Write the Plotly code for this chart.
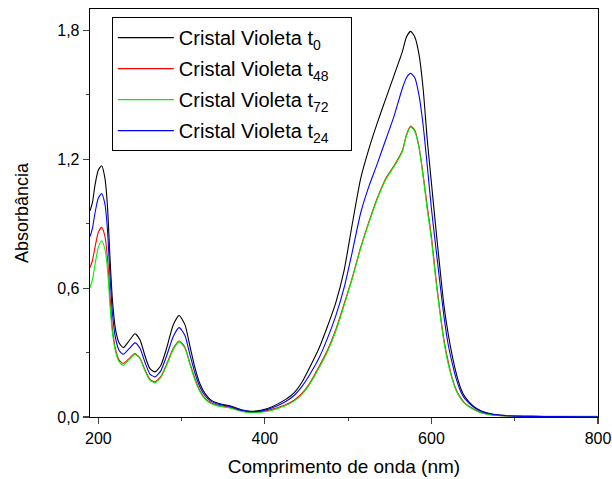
import plotly.graph_objects as go

wavelength = [190, 193, 196, 200, 204, 208, 211, 214, 217, 221, 225, 230, 237, 244, 250, 256, 262, 268, 275, 282,
              290, 297, 304, 310, 316, 322, 328, 335, 342, 350, 358, 365, 372, 380, 386, 395, 405, 415, 425, 435,
              445, 455, 465, 475, 485, 495, 505, 515, 525, 535, 545, 555, 565, 570, 575, 580, 585, 590, 595, 600,
              605, 610, 615, 620, 625, 630, 635, 640, 650, 660, 670, 680, 690, 700, 720, 750, 800]

abs_t0 = [0.96, 1.00, 1.08, 1.15, 1.17, 1.11, 0.98, 0.74, 0.54, 0.40, 0.345, 0.323, 0.355, 0.388, 0.36, 0.285, 0.225, 0.21, 0.24, 0.32,
          0.43, 0.473, 0.43, 0.33, 0.23, 0.155, 0.11, 0.08, 0.066, 0.058, 0.052, 0.043, 0.034, 0.028, 0.027, 0.031, 0.042, 0.06, 0.082, 0.112,
          0.165, 0.24, 0.32, 0.42, 0.53, 0.68, 0.90, 1.11, 1.25, 1.37, 1.48, 1.59, 1.70, 1.77, 1.796, 1.77, 1.69, 1.53, 1.29, 1.09,
          0.89, 0.70, 0.52, 0.39, 0.285, 0.20, 0.135, 0.095, 0.052, 0.028, 0.016, 0.010, 0.007, 0.005, 0.003, 0.002, 0.001]

abs_t48 = [0.695, 0.73, 0.79, 0.86, 0.883, 0.84, 0.74, 0.56, 0.41, 0.31, 0.265, 0.249, 0.272, 0.295, 0.275, 0.22, 0.175, 0.164, 0.188, 0.245,
           0.32, 0.354, 0.325, 0.25, 0.178, 0.122, 0.088, 0.066, 0.056, 0.05, 0.045, 0.037, 0.029, 0.024, 0.023, 0.025, 0.032, 0.043, 0.057, 0.078,
           0.112, 0.165, 0.235, 0.31, 0.405, 0.525, 0.65, 0.79, 0.91, 1.02, 1.11, 1.17, 1.24, 1.315, 1.355, 1.335, 1.26, 1.13, 0.98, 0.84,
           0.66, 0.50, 0.36, 0.26, 0.18, 0.125, 0.09, 0.065, 0.038, 0.020, 0.012, 0.007, 0.005, 0.004, 0.003, 0.002, 0.002]

abs_t72 = [0.602, 0.64, 0.71, 0.79, 0.821, 0.78, 0.69, 0.52, 0.39, 0.30, 0.258, 0.241, 0.268, 0.292, 0.272, 0.215, 0.171, 0.16, 0.184, 0.24,
           0.315, 0.35, 0.32, 0.245, 0.172, 0.118, 0.084, 0.063, 0.053, 0.047, 0.042, 0.034, 0.026, 0.021, 0.020, 0.022, 0.028, 0.039, 0.053, 0.074,
           0.107, 0.16, 0.228, 0.303, 0.398, 0.518, 0.645, 0.785, 0.905, 1.015, 1.105, 1.165, 1.235, 1.31, 1.35, 1.33, 1.255, 1.12, 0.965, 0.825,
           0.645, 0.49, 0.35, 0.25, 0.175, 0.12, 0.086, 0.062, 0.036, 0.019, 0.011, 0.007, 0.005, 0.004, 0.003, 0.003, 0.003]

abs_t24 = [0.84, 0.88, 0.95, 1.02, 1.04, 0.99, 0.87, 0.66, 0.48, 0.36, 0.31, 0.292, 0.318, 0.345, 0.32, 0.255, 0.20, 0.187, 0.215, 0.285,
           0.375, 0.416, 0.38, 0.29, 0.205, 0.14, 0.10, 0.074, 0.062, 0.055, 0.049, 0.04, 0.031, 0.026, 0.025, 0.028, 0.037, 0.052, 0.072, 0.10,
           0.145, 0.205, 0.275, 0.365, 0.47, 0.60, 0.77, 0.95, 1.075, 1.18, 1.29, 1.40, 1.53, 1.58, 1.60, 1.58, 1.50, 1.36, 1.17, 0.97,
           0.80, 0.63, 0.47, 0.34, 0.25, 0.175, 0.12, 0.085, 0.048, 0.026, 0.015, 0.009, 0.006, 0.004, 0.003, 0.002, 0.001]

pad = "\u00a0\u00a0\u00a0"
series = [
    ("Cristal Violeta t<sub>0</sub>" + pad, abs_t0, "#000000"),
    ("Cristal Violeta t<sub>48</sub>" + pad, abs_t48, "#ff0000"),
    ("Cristal Violeta t<sub>72</sub>" + pad, abs_t72, "#00ee00"),
    ("Cristal Violeta t<sub>24</sub>" + pad, abs_t24, "#0000ff"),
]

x_ticks = [200, 400, 600, 800]
y_ticks = [0.0, 0.6, 1.2, 1.8]

fig = go.Figure()
for i, (name, vals, color) in enumerate(series):
    assert len(vals) == len(wavelength)
    fig.add_trace(go.Scatter(x=wavelength, y=vals, mode="lines", name=name, legendgroup=f"g{i}",
                             line=dict(color=color, width=1.1, shape="spline", smoothing=0.6)))

font_family = "Liberation Sans"
fig.update_layout(
    width=612, height=479,
    margin=dict(l=90, r=14, t=9, b=62),
    paper_bgcolor="white", plot_bgcolor="white",
    separators=",.",
    font=dict(family=font_family, color="black", size=16),
    showlegend=True,
    legend=dict(x=0.043, y=0.98, xanchor="left", yanchor="top",
                bordercolor="black", borderwidth=1, bgcolor="white",
                font=dict(size=20, family=font_family), itemwidth=56,
                tracegroupgap=2),
)
fig.update_xaxes(
    range=[190, 800], tickvals=x_ticks, ticks="outside", ticklen=6, tickwidth=1.2,
    minor=dict(dtick=100, tick0=100, ticks="outside", ticklen=3, tickwidth=1.2),
    showline=True, linecolor="black", linewidth=1.3, mirror=True,
    showgrid=False, zeroline=False, automargin=False, ticklabeloverflow="allow",
    tickfont=dict(size=16, family=font_family),
    title=dict(text="Comprimento de onda (nm)", font=dict(size=19, family=font_family), standoff=14),
)
fig.update_yaxes(
    range=[0, 1.9], tickvals=y_ticks, tickformat=".1f", ticks="outside", ticklen=6, tickwidth=1.2,
    minor=dict(dtick=0.3, tick0=0, ticks="outside", ticklen=3, tickwidth=1.2),
    showline=True, linecolor="black", linewidth=1.3, mirror=True,
    showgrid=False, zeroline=False, automargin=False,
    tickfont=dict(size=16, family=font_family),
    title=dict(text="Absorbância", font=dict(size=18, family=font_family), standoff=24),
)
fig.write_html("out.html",
               config={"displayModeBar": False, "staticPlot": True},
               post_script="document.body.style.margin='0';document.body.style.overflow='hidden';")
